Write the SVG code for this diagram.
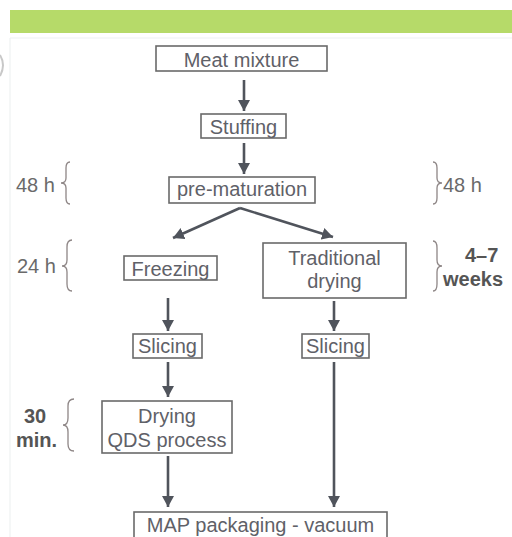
<svg xmlns="http://www.w3.org/2000/svg" width="512" height="537" viewBox="0 0 512 537">
<defs>
<style>
.box{fill:#ffffff;stroke:#6a6a6a;stroke-width:1.6}
.t{font-family:"Liberation Sans",Arial,sans-serif;font-size:20px;fill:#5f6168;text-anchor:middle}
.lbl{font-family:"Liberation Sans",Arial,sans-serif;font-size:20px;fill:#6a6a6a}
.bold{font-family:"Liberation Sans",Arial,sans-serif;font-size:20px;font-weight:bold;fill:#555555}
.arr{stroke:#50545c;stroke-width:2.6;fill:none;marker-end:url(#ah)}
.br{stroke:#8e8686;stroke-width:1.3;fill:none}
</style>
<marker id="ah" markerUnits="userSpaceOnUse" markerWidth="12" markerHeight="12" refX="11" refY="6" orient="auto">
<path d="M0,0 L11,6 L0,12 Z" fill="#50545c"/>
</marker>
</defs>
<rect x="0" y="0" width="512" height="537" fill="#ffffff"/>
<rect x="10" y="10" width="502" height="23" fill="#b6da69"/>
<path d="M10,38 H512 M10,38 V537" stroke="#eef2f2" stroke-width="1.2" fill="none"/>
<path d="M0,55 Q6,65 0,76" stroke="#c8c8c8" stroke-width="2" fill="none"/>

<g id="connectors">
<line class="arr" x1="244" y1="80" x2="244" y2="111"/>
<line class="arr" x1="244" y1="143" x2="244" y2="174"/>
<line class="arr" x1="240" y1="208" x2="173" y2="238"/>
<line class="arr" x1="240" y1="208" x2="333" y2="237"/>
<line class="arr" x1="168" y1="298" x2="168" y2="331"/>
<line class="arr" x1="334" y1="301" x2="334" y2="331"/>
<line class="arr" x1="168" y1="362" x2="168" y2="397"/>
<line class="arr" x1="168" y1="456" x2="168" y2="507"/>
<line class="arr" x1="334" y1="362" x2="334" y2="507"/>
</g>

<g id="meat-mixture">
<rect class="box" x="156" y="46" width="171" height="25"/>
<text class="t" x="241.5" y="67">Meat mixture</text>
</g>
<g id="stuffing">
<rect class="box" x="201" y="114" width="85" height="24"/>
<text class="t" x="243.5" y="134">Stuffing</text>
</g>
<g id="pre-maturation">
<rect class="box" x="169" y="177" width="146" height="26"/>
<text class="t" x="242" y="196">pre-maturation</text>
</g>
<g id="freezing">
<rect class="box" x="124" y="256" width="93" height="24"/>
<text class="t" x="170.5" y="276">Freezing</text>
</g>
<g id="traditional-drying">
<rect class="box" x="263" y="243" width="143" height="55"/>
<text class="t" x="334.5" y="265">Traditional</text>
<text class="t" x="334.5" y="288">drying</text>
</g>
<g id="slicing-left">
<rect class="box" x="133" y="334" width="69" height="24"/>
<text class="t" x="167.5" y="353">Slicing</text>
</g>
<g id="slicing-right">
<rect class="box" x="302" y="334" width="67" height="24"/>
<text class="t" x="335.5" y="353">Slicing</text>
</g>
<g id="drying-qds">
<rect class="box" x="102" y="401" width="130" height="52"/>
<text class="t" x="167" y="423">Drying</text>
<text class="t" x="167" y="447">QDS process</text>
</g>
<g id="map-packaging">
<rect class="box" x="134" y="512" width="253" height="30"/>
<text class="t" x="260.5" y="532">MAP packaging - vacuum</text>
</g>

<g id="time-labels">
<text class="lbl" x="16" y="192">48 h</text>
<path class="br" d="M70,162 Q66,162 66,168 L66,178 Q66,183 61,183 Q66,183 66,188 L66,198 Q66,204 70,204"/>
<path class="br" d="M433,162 Q437,162 437,168 L437,178 Q437,183 442,183 Q437,183 437,188 L437,198 Q437,204 433,204"/>
<text class="lbl" x="443" y="192">48 h</text>

<text class="lbl" x="17" y="273">24 h</text>
<path class="br" d="M72,240 Q67,240 67,247 L67,260 Q67,266 62,266 Q67,266 67,272 L67,284 Q67,291 72,291"/>
<path class="br" d="M433,241 Q437,241 437,248 L437,260 Q437,266 442,266 Q437,266 437,272 L437,284 Q437,291 433,291"/>
<text class="bold" x="465" y="262">4–7</text>
<text class="bold" x="443" y="286">weeks</text>

<text class="bold" x="24" y="423">30</text>
<text class="bold" x="16" y="447">min.</text>
<path class="br" d="M74,399 Q68,399 68,406 L68,418 Q68,425 63,425 Q68,425 68,432 L68,444 Q68,451 74,451"/>
</g>
</svg>
